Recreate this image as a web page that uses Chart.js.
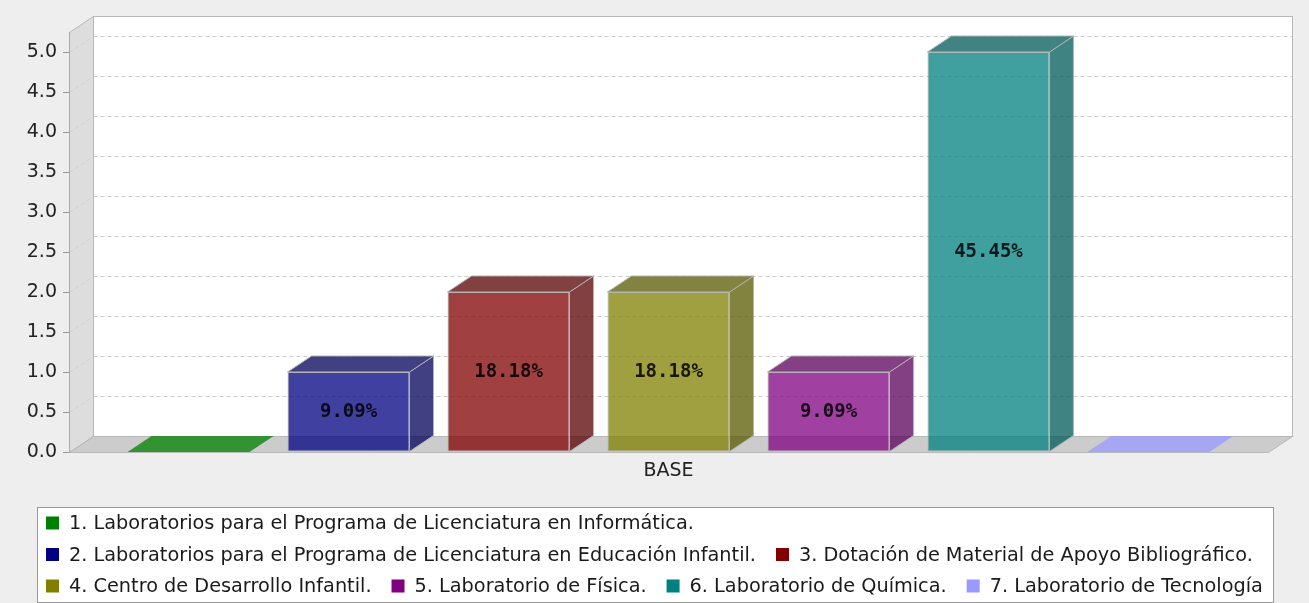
<!DOCTYPE html>
<html>
<head>
<meta charset="utf-8">
<script src="https://cdn.jsdelivr.net/npm/chart.js@4.4.1/dist/chart.umd.min.js"></script>
<style>
  html, body { margin: 0; padding: 0; background: #eeeeee; }
  #wrap { width: 1309px; height: 603px; }
</style>
</head>
<body>
<div id="wrap"><canvas id="barChart" width="1309" height="603"></canvas></div>
<script>
// data
const categories = ["BASE"];
const seriesLabels = [
  "1. Laboratorios para el Programa de Licenciatura en Informática.",
  "2. Laboratorios para el Programa de Licenciatura en Educación Infantil.",
  "3. Dotación de Material de Apoyo Bibliográfico.",
  "4. Centro de Desarrollo Infantil.",
  "5. Laboratorio de Física.",
  "6. Laboratorio de Química.",
  "7. Laboratorio de Tecnología"
];
const seriesValues = [0, 1, 2, 2, 1, 5, 0];
const seriesColors = [[0,128,0], [0,0,128], [128,0,0], [128,128,0], [128,0,128], [0,128,128], [153,153,255]];
const yTickValues = [0.0, 0.5, 1.0, 1.5, 2.0, 2.5, 3.0, 3.5, 4.0, 4.5, 5.0];
const yAxisMax = 5.25;

const total = seriesValues.reduce((s, v) => s + v, 0);
const DX = 24, DY = -16;   // depth of the 3d effect
const ALPHA = 0.75;
const rgba = (c, a) => "rgba(" + c[0] + "," + c[1] + "," + c[2] + "," + a + ")";
const darker = c => c.map(v => Math.floor(v * 0.7));

function poly(ctx, pts) {
  ctx.beginPath();
  ctx.moveTo(pts[0][0], pts[0][1]);
  for (let i = 1; i < pts.length; i++) ctx.lineTo(pts[i][0], pts[i][1]);
  ctx.closePath();
}

// walls, floor and grid of the 3d plot
const plot3d = {
  id: "plot3d",
  beforeDraw(chart) {
    const { ctx, chartArea: a, scales } = chart;
    const y = scales.y;
    ctx.save();
    ctx.fillStyle = "#eeeeee";
    ctx.fillRect(0, 0, chart.width, chart.height);

    const L = a.left + 0.5, R = a.right + 0.5, T = a.top + 0.5, B = a.bottom + 0.5;
    ctx.fillStyle = "#ffffff";
    ctx.fillRect(L + DX, T + DY, R - L, B - T);
    ctx.fillStyle = "#dddddd";
    poly(ctx, [[L, T], [L + DX, T + DY], [L + DX, B + DY], [L, B]]);
    ctx.fill();
    ctx.fillStyle = "#cccccc";
    poly(ctx, [[L, B], [L + DX, B + DY], [R + DX, B + DY], [R, B]]);
    ctx.fill();

    ctx.lineWidth = 1;
    ctx.setLineDash([4, 3]);
    y.ticks.forEach(t => {
      if (t.value === 0) return;
      const py = Math.round(y.getPixelForValue(t.value)) + 0.5;
      ctx.strokeStyle = "#cccccc";
      ctx.beginPath();
      ctx.moveTo(L + DX, py + DY);
      ctx.lineTo(R + DX, py + DY);
      ctx.stroke();
      ctx.strokeStyle = "#d0d0d0";
      ctx.beginPath();
      ctx.moveTo(L, py);
      ctx.lineTo(L + DX, py + DY);
      ctx.stroke();
    });
    ctx.setLineDash([]);

    ctx.strokeStyle = "#b8b8b8";
    ctx.strokeRect(L + DX, T + DY, R - L, B - T);
    poly(ctx, [[L, T], [L + DX, T + DY], [L + DX, B + DY], [L, B]]);
    ctx.stroke();
    poly(ctx, [[L, B], [L + DX, B + DY], [R + DX, B + DY], [R, B]]);
    ctx.stroke();
    ctx.restore();
  },
  afterDatasetsDraw(chart) {
    const ctx = chart.ctx;
    ctx.save();
    ctx.lineWidth = 1;
    ctx.strokeStyle = "#b4b4b4";
    chart.data.datasets.forEach((ds, i) => {
      const meta = chart.getDatasetMeta(i);
      meta.data.forEach((bar, j) => {
        const { x, y, base, width } = bar.getProps(["x", "y", "base", "width"], true);
        const v = ds.data[j];
        const l = x - width / 2, r = x + width / 2;
        const c = seriesColors[i];
        if (v > 0) {
          ctx.fillStyle = rgba(darker(c), ALPHA);
          poly(ctx, [[r, y], [r + DX, y + DY], [r + DX, base + DY], [r, base]]);
          ctx.fill(); ctx.stroke();
          poly(ctx, [[l, y], [l + DX, y + DY], [r + DX, y + DY], [r, y]]);
          ctx.fill(); ctx.stroke();
          ctx.font = "bold 19px 'DejaVu Sans Mono', monospace";
          ctx.fillStyle = "rgba(0,0,0,0.85)";
          ctx.textAlign = "center";
          ctx.textBaseline = "middle";
          ctx.fillText((v / total * 100).toFixed(2) + "%", x, (y + base) / 2);
        } else {
          ctx.fillStyle = rgba(c, ALPHA);
          poly(ctx, [[l, y], [l + DX, y + DY], [r + DX, y + DY], [r, y]]);
          ctx.fill();
        }
      });
    });
    ctx.restore();
  }
};

// boxed legend below the plot, items flow left to right
const boxLegend = {
  id: "boxLegend",
  afterDraw(chart, args, opts) {
    const ctx = chart.ctx;
    ctx.save();
    ctx.fillStyle = "#ffffff";
    ctx.fillRect(opts.left, opts.top, opts.right - opts.left, opts.bottom - opts.top);
    ctx.strokeStyle = "#999999";
    ctx.lineWidth = 1;
    ctx.strokeRect(opts.left + 0.5, opts.top + 0.5, opts.right - opts.left, opts.bottom - opts.top);

    ctx.font = opts.font;
    ctx.textAlign = "left";
    ctx.textBaseline = "middle";
    const x0 = opts.left + opts.pad;
    let x = x0, row = 0;
    chart.data.datasets.forEach((ds, i) => {
      const w = opts.box + opts.gap + ctx.measureText(ds.label).width;
      if (x > x0 && x + w > opts.right - 2) { row++; x = x0; }
      const cy = opts.top + opts.firstRow + row * opts.rowHeight;
      ctx.fillStyle = rgba(seriesColors[i], 1);
      ctx.fillRect(x, cy - opts.box / 2, opts.box, opts.box);
      ctx.fillStyle = "#1a1a1a";
      ctx.fillText(ds.label, x + opts.box + opts.gap, cy + 1);
      x += w + opts.itemGap;
    });
    ctx.restore();
  }
};

const datasets = seriesLabels.map((name, i) => ({
  label: name,
  data: [seriesValues[i]],
  backgroundColor: rgba(seriesColors[i], ALPHA),
  borderColor: "#b4b4b4",
  borderWidth: 1,
  borderSkipped: false
}));

new Chart(document.getElementById("barChart"), {
  type: "bar",
  data: { labels: categories, datasets: datasets },
  plugins: [plot3d, boxLegend],
  options: {
    responsive: false,
    animation: false,
    devicePixelRatio: 1,
    categoryPercentage: 0.934,
    barPercentage: 0.7625,
    layout: { padding: { left: 0, top: 32, right: 41, bottom: 101 } },
    scales: {
      x: {
        grid: { display: false, drawTicks: false },
        border: { display: false },
        ticks: { color: "#222222", padding: 8, font: { family: "DejaVu Sans", size: 19, lineHeight: 1.2 } },
        afterFit(scale) { scale.height = 50; }
      },
      y: {
        min: 0,
        max: yAxisMax,
        afterBuildTicks(scale) { scale.ticks = yTickValues.map(v => ({ value: v })); },
        grid: { drawOnChartArea: false, drawTicks: true, tickLength: 6, color: "#999999" },
        border: { display: true, color: "#aaaaaa" },
        ticks: {
          color: "#222222",
          padding: 6,
          font: { family: "DejaVu Sans", size: 19 },
          callback: v => Number(v).toFixed(1)
        },
        afterFit(scale) { scale.width = 69; }
      }
    },
    plugins: {
      legend: { display: false },
      tooltip: { enabled: false },
      boxLegend: {
        left: 37, top: 507, right: 1273, bottom: 602,
        pad: 9, box: 13, gap: 10, itemGap: 20,
        firstRow: 16, rowHeight: 31.5,
        font: "19.3px 'DejaVu Sans', sans-serif"
      }
    }
  }
});
</script>
</body>
</html>
